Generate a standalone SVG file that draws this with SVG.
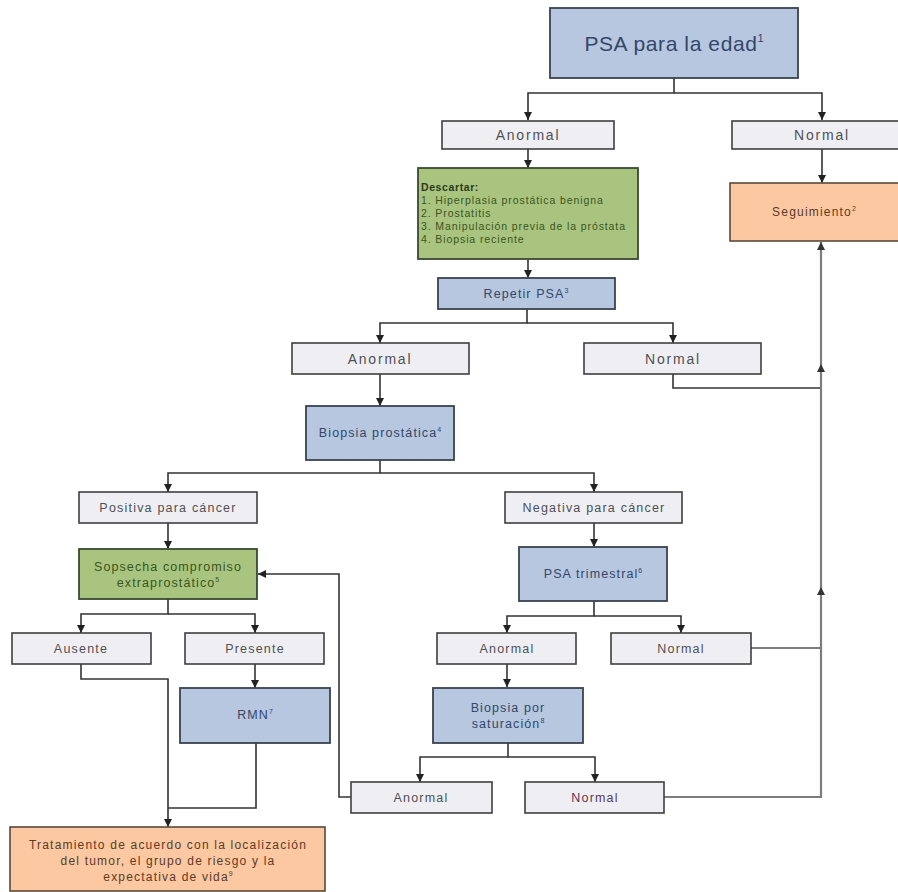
<svg xmlns="http://www.w3.org/2000/svg" width="898" height="892" viewBox="0 0 898 892">
<defs>
<style>
text{font-family:"Liberation Sans",Arial,sans-serif;text-anchor:middle}
.g rect{fill:#efeff3;stroke:#3f3f3f;stroke-width:1.6}
.b rect{fill:#b6c7df;stroke:#39424f;stroke-width:1.8}
.gr rect{fill:#a9c47e;stroke:#3a4a30;stroke-width:1.8}
.o rect{fill:#fbc8a1;stroke:#5a4a3a;stroke-width:1.6}
.g text{fill:#4f4f55;font-size:12.5px;letter-spacing:1.2px}
.g text.big{font-size:14px;letter-spacing:1.8px}
.b text{fill:#34466a;font-size:12.5px;letter-spacing:1.1px}
.gr text{fill:#3a5522;font-size:12.5px;letter-spacing:1.1px}
.o text{fill:#5b3b28;font-size:12px;letter-spacing:1.2px}
.sup{font-size:7px;letter-spacing:0}
.con path{fill:none;stroke:#333;stroke-width:1.6}
.con path.gry{stroke:#7d7d7d;stroke-width:2.2}
</style>
<marker id="ah" viewBox="0 0 10 10" refX="10" refY="5" markerWidth="8" markerHeight="8" markerUnits="userSpaceOnUse" orient="auto">
<path d="M0,0 L10,5 L0,10 z" fill="#222"/>
</marker>
<marker id="ahg" viewBox="0 0 10 10" refX="10" refY="5" markerWidth="8" markerHeight="8" markerUnits="userSpaceOnUse" orient="auto">
<path d="M0,0 L10,5 L0,10 z" fill="#333"/>
</marker>
</defs>
<rect width="898" height="892" fill="#ffffff"/>

<g id="connectors" class="con">
<path d="M674,78 V93 H528 V120" marker-end="url(#ah)"/>
<path d="M674,93 H822 V120" marker-end="url(#ah)"/>
<path d="M528,149 V168" marker-end="url(#ah)"/>
<path d="M822,149 V183" marker-end="url(#ah)"/>
<path d="M528,259 V278" marker-end="url(#ah)"/>
<path d="M527,309 V323 H380 V343" marker-end="url(#ah)"/>
<path d="M527,323 H673 V343" marker-end="url(#ah)"/>
<path d="M380,374 V406" marker-end="url(#ah)"/>
<path d="M673,374 V388 H821"/>
<path d="M380,460 V473 H168 V492" marker-end="url(#ah)"/>
<path d="M380,473 H594 V492" marker-end="url(#ah)"/>
<path d="M168,523 V549" marker-end="url(#ah)"/>
<path d="M594,523 V547" marker-end="url(#ah)"/>
<path d="M168,599 V614 H81 V633" marker-end="url(#ah)"/>
<path d="M168,614 H255 V633" marker-end="url(#ah)"/>
<path d="M594,601 V616 H507 V633" marker-end="url(#ah)"/>
<path d="M594,616 H681 V633" marker-end="url(#ah)"/>
<path d="M255,664 V688" marker-end="url(#ah)"/>
<path d="M507,664 V687" marker-end="url(#ah)"/>
<path d="M81,664 V679 H168 V827" marker-end="url(#ah)"/>
<path d="M256,743 V808 H168"/>
<path d="M508,743 V757 H420 V782" marker-end="url(#ah)"/>
<path d="M508,757 H595 V782" marker-end="url(#ah)"/>
<path d="M351,797 H339 V574 H258" marker-end="url(#ah)"/>
<path class="gry" d="M751,648 H821"/>
<path class="gry" d="M664,797 H821 V587" marker-end="url(#ahg)"/>
<path class="gry" d="M821,587 V364" marker-end="url(#ahg)"/>
<path class="gry" d="M821,364 V242" marker-end="url(#ahg)"/>
</g>

<g id="psa-edad" class="b"><rect x="550" y="8" width="248" height="70"/><text x="674" y="51" style="font-size:21px;letter-spacing:0.6px">PSA para la edad<tspan class="sup" dy="-9" style="font-size:11px">1</tspan></text></g>
<g id="anormal1" class="g"><rect x="442" y="121" width="172" height="28"/><text class="big" x="528" y="140">Anormal</text></g>
<g id="normal1" class="g"><rect x="732" y="121" width="182" height="28"/><text class="big" x="822" y="140">Normal</text></g>
<g id="descartar" class="gr"><rect x="418" y="168" width="220" height="91"/>
<text x="421" y="191" style="text-anchor:start;font-size:10.5px;letter-spacing:0.6px;font-weight:bold;fill:#2c3a1c">Descartar:</text>
<text x="421" y="204" style="text-anchor:start;font-size:10.5px;letter-spacing:0.9px">1. Hiperplasia prostática benigna</text>
<text x="421" y="217" style="text-anchor:start;font-size:10.5px;letter-spacing:0.9px">2. Prostatitis</text>
<text x="421" y="230" style="text-anchor:start;font-size:10.5px;letter-spacing:0.9px">3. Manipulación previa de la próstata</text>
<text x="421" y="243" style="text-anchor:start;font-size:10.5px;letter-spacing:0.9px">4. Biopsia reciente</text></g>
<g id="seguimiento" class="o"><rect x="730" y="183" width="184" height="58"/><text x="814" y="216">Seguimiento<tspan class="sup" dy="-5">2</tspan></text></g>
<g id="repetir-psa" class="b"><rect x="438" y="278" width="177" height="31"/><text x="526" y="298">Repetir PSA<tspan class="sup" dy="-5">3</tspan></text></g>
<g id="anormal2" class="g"><rect x="292" y="343" width="177" height="31"/><text class="big" x="380" y="364">Anormal</text></g>
<g id="normal2" class="g"><rect x="584" y="343" width="177" height="31"/><text class="big" x="673" y="364">Normal</text></g>
<g id="biopsia-prostatica" class="b"><rect x="306" y="406" width="148" height="54"/><text x="380" y="437">Biopsia prostática<tspan class="sup" dy="-5">4</tspan></text></g>
<g id="positiva" class="g"><rect x="79" y="492" width="178" height="31"/><text x="168" y="512">Positiva para cáncer</text></g>
<g id="negativa" class="g"><rect x="505" y="492" width="177" height="31"/><text x="594" y="512">Negativa para cáncer</text></g>
<g id="sospecha" class="gr"><rect x="79" y="549" width="178" height="50"/><text x="168" y="571">Sopsecha compromiso</text><text x="168" y="587">extraprostático<tspan class="sup" dy="-5">5</tspan></text></g>
<g id="psa-trimestral" class="b"><rect x="519" y="547" width="148" height="54"/><text x="593" y="578">PSA trimestral<tspan class="sup" dy="-5">6</tspan></text></g>
<g id="ausente" class="g"><rect x="12" y="633" width="139" height="31"/><text x="81" y="653">Ausente</text></g>
<g id="presente" class="g"><rect x="185" y="633" width="139" height="31"/><text x="255" y="653">Presente</text></g>
<g id="anormal3" class="g"><rect x="437" y="633" width="139" height="31"/><text x="507" y="653">Anormal</text></g>
<g id="normal3" class="g"><rect x="611" y="633" width="140" height="31"/><text x="681" y="653">Normal</text></g>
<g id="rmn" class="b"><rect x="180" y="688" width="150" height="55"/><text x="255" y="719">RMN<tspan class="sup" dy="-5">7</tspan></text></g>
<g id="biopsia-saturacion" class="b"><rect x="433" y="688" width="150" height="55"/><text x="508" y="712">Biopsia por</text><text x="508" y="728">saturación<tspan class="sup" dy="-5">8</tspan></text></g>
<g id="anormal4" class="g"><rect x="351" y="782" width="141" height="31"/><text x="421" y="802">Anormal</text></g>
<g id="normal4" class="g"><rect x="525" y="782" width="139" height="31"/><text x="595" y="802" style="fill:#5a3a55">Normal</text></g>
<g id="tratamiento" class="o"><rect x="10" y="827" width="315" height="64"/><text x="168" y="849">Tratamiento de acuerdo con la localización</text><text x="168" y="865">del tumor, el grupo de riesgo y la</text><text x="168" y="881">expectativa de vida<tspan class="sup" dy="-5">9</tspan></text></g>
</svg>
